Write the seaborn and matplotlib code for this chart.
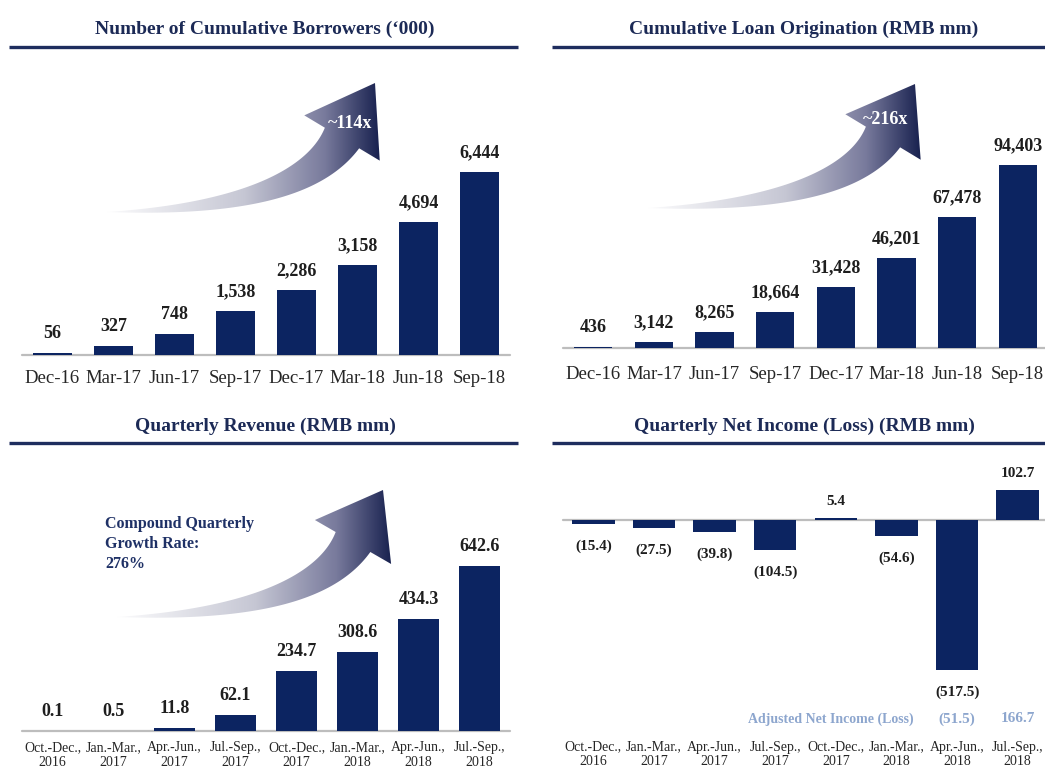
import numpy as np
import matplotlib
matplotlib.use("Agg")
import matplotlib.pyplot as plt
import seaborn as sns
from matplotlib.patches import Polygon
from matplotlib.colors import LinearSegmentedColormap
import matplotlib.transforms as mtransforms

# ---------------- data ----------------
quarters = ["Dec-16", "Mar-17", "Jun-17", "Sep-17", "Dec-17", "Mar-18", "Jun-18", "Sep-18"]
borrowers = [56, 327, 748, 1538, 2286, 3158, 4694, 6444]
loan_origination = [436, 3142, 8265, 18664, 31428, 46201, 67478, 94403]
periods = ["Oct.-Dec.,\n2016", "Jan.-Mar.,\n2017", "Apr.-Jun.,\n2017", "Jul.-Sep.,\n2017",
           "Oct.-Dec.,\n2017", "Jan.-Mar.,\n2018", "Apr.-Jun.,\n2018", "Jul.-Sep.,\n2018"]
revenue = [0.1, 0.5, 11.8, 62.1, 234.7, 308.6, 434.3, 642.6]
net_income = [-15.4, -27.5, -39.8, -104.5, 5.4, -54.6, -517.5, 102.7]
adj_periods = ["Apr.-Jun.,\n2018", "Jul.-Sep.,\n2018"]
adj_net_income = [-51.5, 166.7]
titles = ["Number of Cumulative Borrowers (\u2018000)", "Cumulative Loan Origination (RMB mm)",
          "Quarterly Revenue (RMB mm)", "Quarterly Net Income (Loss) (RMB mm)"]
growth_notes = ["~114x", "~216x", "Compound Quarterly\nGrowth Rate:\n276%"]
adj_label = "Adjusted Net Income (Loss)"

# ---------------- style ----------------
sns.set_theme(style="white")
plt.rcParams["font.family"] = ["Liberation Serif", "DejaVu Serif"]

NAVY = "#0C2461"
TITLE_C = "#1C2A56"
BASE_C = "#BDBDBD"
TXT_C = "#1E1E1E"
ADJ_C = "#8DA6CE"

W, H = 1045, 769
fig = plt.figure(figsize=(W / 100, H / 100), dpi=100)
fig.patch.set_facecolor("white")


def rect(x0, y0, x1, y1):
    return [x0 / W, 1 - y1 / H, (x1 - x0) / W, (y1 - y0) / H]


def fmt_comma(v):
    return f"{v:,.0f}"


def fmt_dec(v):
    return f"({abs(v):.1f})" if v < 0 else f"{v:.1f}"


def bar_panel(r, cats, vals, xlim, ylim, width, fmt, lab_size, pos_off, neg_off,
              tick_size, pad):
    ax = fig.add_axes(r)
    sns.barplot(x=cats, y=vals, ax=ax, color=NAVY, saturation=1, width=width,
                linewidth=0)
    ax.set_xlim(*xlim)
    ax.set_ylim(*ylim)
    ax.set_yticks([])
    ax.set_xlabel("")
    ax.set_ylabel("")
    for s in ax.spines.values():
        s.set_visible(False)
    ax.axhline(0, color=BASE_C, lw=1.6, clip_on=False, zorder=0)
    ax.tick_params(axis="x", length=0, pad=pad, labelsize=tick_size, colors="#262626")
    for lbl in ax.get_xticklabels():
        lbl.set_linespacing(1.12)
    for i, v in enumerate(vals):
        ax.annotate(fmt(v), (i, v), xytext=(0, pos_off if v >= 0 else neg_off),
                    textcoords="offset points", ha="center", va="center",
                    fontweight="bold", fontsize=lab_size, color=TXT_C)
    ax.patch.set_alpha(0)
    return ax


ax1 = bar_panel(rect(22, 60, 510, 355), quarters, borrowers, (-0.5, 7.5), (0, 10390),
                0.64, fmt_comma, 13, 14, -14, 13.5, 11)
ax2 = bar_panel(rect(563, 60, 1045, 348), quarters, loan_origination, (-0.5, 7.45),
                (0, 148600), 0.63, fmt_comma, 13, 14, -14, 13.5, 13)
ax3 = bar_panel(rect(22, 460, 510, 731), periods, revenue, (-0.5, 7.5), (0, 1055),
                0.66, fmt_dec, 13, 14, -14, 10, 7.5)
ax4 = bar_panel(rect(563, 455, 1045, 735), periods, net_income, (-0.5, 7.45),
                (-741, 224), 0.70, fmt_dec, 11, 12, -16, 10, 4)

# adjusted net income row
tr = mtransforms.blended_transform_factory(ax4.transData, fig.transFigure)
for p, v in zip(adj_periods, adj_net_income):
    ax4.text(periods.index(p), 1 - 719 / H, fmt_dec(v), transform=tr, ha="center",
             va="center", fontsize=11, fontweight="bold", color=ADJ_C)
fig.text(831 / W, 1 - 719 / H, adj_label, ha="center", va="center", fontsize=10,
         fontweight="bold", color=ADJ_C)

# ---------------- overlay: titles, rules, arrows ----------------
ov = fig.add_axes([0, 0, 1, 1], zorder=5)
ov.set_xlim(0, W)
ov.set_ylim(H, 0)
ov.axis("off")
ov.patch.set_alpha(0)

title_pos = [(265, 29), (804, 29), (265, 426), (804, 426)]
rules = [((9, 518), 47), ((552, 1045), 47), ((9, 518), 443), ((552, 1045), 443)]
for t, (tx, ty), ((rx0, rx1), ry) in zip(titles, title_pos, rules):
    ov.text(tx, ty, t, ha="center", va="center", fontsize=14, fontweight="bold",
            color=TITLE_C)
    ov.plot([rx0, rx1], [ry, ry], color="#1E2D5E", lw=2.4, solid_capstyle="butt")

cmap = LinearSegmentedColormap.from_list(
    "swoosh", [(0, "#FBFBFC"), (0.5, "#C6C7D4"), (0.8, "#787A9C"), (1, "#18214F")])


def swoosh(tail, base, tip, half_head=44, shaft_w=40):
    tail, base, tip = map(np.asarray, (tail, base, tip))
    d = (tip - base) / np.linalg.norm(tip - base)
    s = (tail[1] - 3 - base[1]) / (-d[1])
    ctrl = base - s * d
    t = np.linspace(0, 1, 120)[:, None]
    B = (1 - t) ** 2 * tail + 2 * (1 - t) * t * ctrl + t ** 2 * base
    dB = 2 * (1 - t) * (ctrl - tail) + 2 * t * (base - ctrl)
    dB = dB / np.linalg.norm(dB, axis=1, keepdims=True)
    n = np.column_stack([-dB[:, 1], dB[:, 0]])
    w = shaft_w / 2 * t ** 1.0
    side_a = B + n * w
    side_b = B - n * w
    nh = np.array([-d[1], d[0]])
    pts = np.vstack([side_a, base + nh * half_head, tip, base - nh * half_head,
                     side_b[::-1]])
    poly = Polygon(pts, closed=True, facecolor="none", edgecolor="none")
    ov.add_patch(poly)
    x0, x1 = pts[:, 0].min(), pts[:, 0].max()
    y0, y1 = pts[:, 1].min(), pts[:, 1].max()
    grad = np.linspace(0, 1, 256)[None, :]
    im = ov.imshow(grad, cmap=cmap, extent=(x0, x1, y1, y0), aspect="auto",
                   interpolation="bilinear")
    im.set_clip_path(poly)


swoosh((107, 212), (342, 138), (375, 83))
swoosh((648, 208), (883, 137), (915, 84))
swoosh((117, 617), (353, 542), (383, 490))
ov.set_xlim(0, W)
ov.set_ylim(H, 0)

ov.text(350, 124, growth_notes[0], ha="center", va="center", fontsize=13,
        fontweight="bold", color="white")
ov.text(886, 120, growth_notes[1], ha="center", va="center", fontsize=13,
        fontweight="bold", color="white")
ov.text(105, 544, growth_notes[2], ha="left", va="center", fontsize=11.5,
        fontweight="bold", color="#1F3166", linespacing=1.3)

fig.savefig("out.png", dpi=100, facecolor="white")
